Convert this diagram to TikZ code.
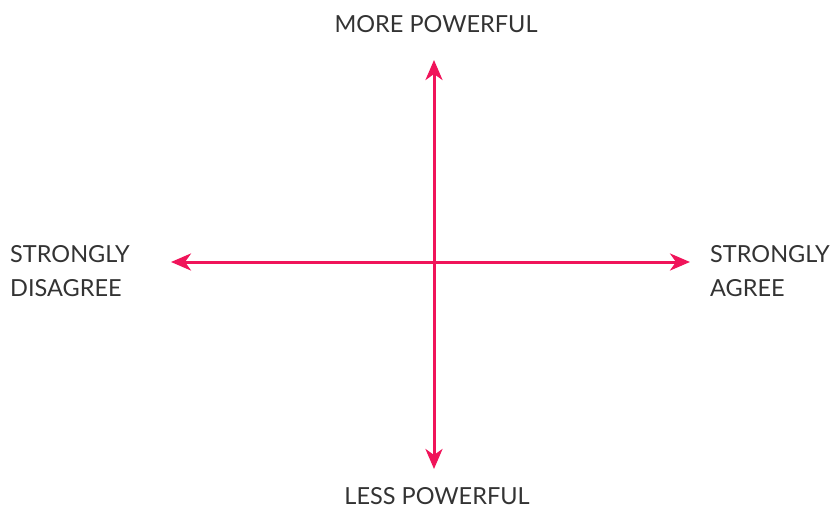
\documentclass[tikz,border=0pt]{standalone}
\usepackage{fontspec}
\setmainfont{Lato}
\usetikzlibrary{arrows.meta}
\definecolor{axisred}{HTML}{F0145A}
\definecolor{labelgray}{HTML}{333333}
\tikzset{
  axis/.style={draw=axisred, line width=3pt, {Stealth[length=20pt,width=17pt,inset=6pt]}-{Stealth[length=20pt,width=17pt,inset=6pt]}},
  lbl/.style={text=labelgray, font=\fontsize{23.5}{34}\selectfont, inner sep=0pt}
}
\begin{document}
\begin{tikzpicture}[x=1pt,y=-1pt]
\useasboundingbox (0,0) rectangle (839,511);
\coordinate (top) at (434,60);
\coordinate (bot) at (434,469);
\coordinate (lft) at (171,262);
\coordinate (rgt) at (690,262);
\draw[axis] (bot) -- (top);
\draw[axis] (lft) -- (rgt);
\node[lbl] (more) at (436,24) {MORE POWERFUL};
\node[lbl] (less) at (437,496) {LESS POWERFUL};
\node[lbl, anchor=west, align=left] (dis) at (10,271) {STRONGLY\\DISAGREE};
\node[lbl, anchor=west, align=left] (agr) at (710,271) {STRONGLY\\AGREE};
\end{tikzpicture}
\end{document}
